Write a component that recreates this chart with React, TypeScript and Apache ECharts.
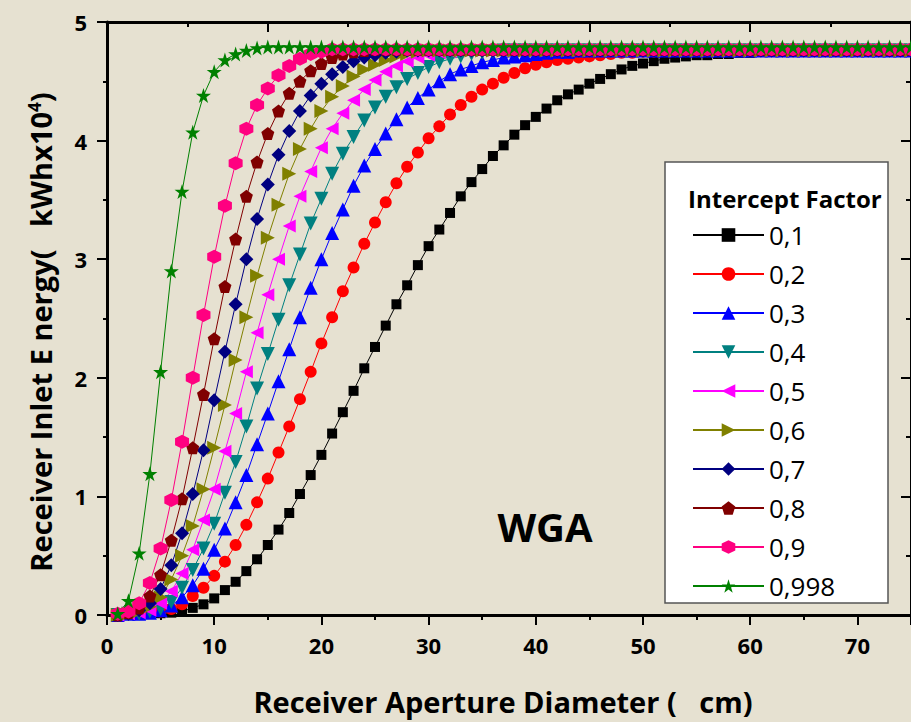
import React, { useEffect, useRef } from "react";
import * as echarts from "echarts";

const X = [1, 2, 3, 4, 5, 6, 7, 8, 9, 10, 11, 12, 13, 14, 15, 16, 17, 18, 19, 20, 21, 22, 23, 24, 25, 26, 27, 28, 29, 30, 31, 32, 33, 34, 35, 36, 37, 38, 39, 40, 41, 42, 43, 44, 45, 46, 47, 48, 49, 50, 51, 52, 53, 54, 55, 56, 57, 58, 59, 60, 61, 62, 63, 64, 65, 66, 67, 68, 69, 70, 71, 72, 73, 74, 75];

const FACTORS = ["0,1", "0,2", "0,3", "0,4", "0,5", "0,6", "0,7", "0,8", "0,9", "0,998"];

const Y_01 = [
  0.0, 0.0, 0.005, 0.01, 0.015, 0.02, 0.03, 0.06, 0.09, 0.14,
  0.21, 0.28, 0.37, 0.47, 0.59, 0.72, 0.86, 1.02, 1.18, 1.35,
  1.53, 1.71, 1.89, 2.08, 2.26, 2.44, 2.62, 2.78, 2.95, 3.11,
  3.25, 3.39, 3.53, 3.65, 3.76, 3.87, 3.96, 4.05, 4.13, 4.2,
  4.27, 4.34, 4.39, 4.43, 4.48, 4.52, 4.56, 4.6, 4.63, 4.65,
  4.67, 4.69, 4.7, 4.71, 4.72, 4.72, 4.73, 4.73, 4.74, 4.74,
  4.75, 4.75, 4.75, 4.75, 4.75, 4.75, 4.75, 4.75, 4.75, 4.75,
  4.75, 4.75, 4.75, 4.75, 4.75,
];
const Y_02 = [
  0.0, 0.005, 0.01, 0.02, 0.03, 0.05, 0.09, 0.16, 0.23, 0.33,
  0.45, 0.59, 0.76, 0.95, 1.15, 1.37, 1.59, 1.82, 2.05, 2.29,
  2.51, 2.73, 2.93, 3.13, 3.31, 3.48, 3.64, 3.78, 3.9, 4.02,
  4.12, 4.22, 4.3, 4.37, 4.43, 4.48, 4.53, 4.57, 4.61, 4.64,
  4.66, 4.68, 4.69, 4.7, 4.71, 4.72, 4.73, 4.74, 4.74, 4.75,
  4.75, 4.76, 4.76, 4.76, 4.76, 4.76, 4.76, 4.76, 4.76, 4.76,
  4.76, 4.76, 4.76, 4.76, 4.76, 4.76, 4.76, 4.76, 4.76, 4.76,
  4.76, 4.76, 4.76, 4.76, 4.76,
];
const Y_03 = [
  0.0, 0.01, 0.01, 0.02, 0.04, 0.08, 0.15, 0.25, 0.39, 0.55,
  0.73, 0.95, 1.18, 1.44, 1.7, 1.97, 2.24, 2.51, 2.76, 3.0,
  3.22, 3.42, 3.62, 3.79, 3.93, 4.06, 4.18, 4.28, 4.36, 4.43,
  4.5, 4.56, 4.6, 4.63, 4.66, 4.68, 4.7, 4.71, 4.72, 4.73,
  4.74, 4.75, 4.75, 4.76, 4.76, 4.76, 4.76, 4.76, 4.76, 4.76,
  4.76, 4.76, 4.76, 4.76, 4.76, 4.76, 4.76, 4.76, 4.76, 4.76,
  4.76, 4.76, 4.76, 4.76, 4.76, 4.76, 4.76, 4.76, 4.76, 4.76,
  4.76, 4.76, 4.76, 4.76, 4.76,
];
const Y_04 = [
  0.0, 0.01, 0.01, 0.03, 0.05, 0.11, 0.23, 0.38, 0.56, 0.77,
  1.03, 1.29, 1.59, 1.91, 2.2, 2.49, 2.78, 3.04, 3.3, 3.51,
  3.72, 3.89, 4.03, 4.17, 4.28, 4.37, 4.45, 4.52, 4.57, 4.62,
  4.66, 4.69, 4.71, 4.73, 4.74, 4.75, 4.76, 4.76, 4.76, 4.76,
  4.76, 4.76, 4.76, 4.76, 4.76, 4.76, 4.76, 4.76, 4.76, 4.76,
  4.76, 4.76, 4.76, 4.76, 4.76, 4.76, 4.76, 4.76, 4.76, 4.76,
  4.76, 4.76, 4.76, 4.76, 4.76, 4.76, 4.76, 4.76, 4.76, 4.76,
  4.76, 4.76, 4.76, 4.76, 4.76,
];
const Y_05 = [
  0.0, 0.01, 0.02, 0.04, 0.1, 0.2, 0.35, 0.55, 0.8, 1.06,
  1.38, 1.7, 2.05, 2.38, 2.7, 3.0, 3.28, 3.53, 3.74, 3.94,
  4.1, 4.23, 4.34, 4.43, 4.51, 4.58, 4.63, 4.67, 4.7, 4.72,
  4.74, 4.75, 4.76, 4.76, 4.76, 4.76, 4.76, 4.76, 4.76, 4.76,
  4.76, 4.76, 4.76, 4.76, 4.76, 4.76, 4.76, 4.76, 4.76, 4.76,
  4.76, 4.76, 4.76, 4.76, 4.76, 4.76, 4.76, 4.76, 4.76, 4.76,
  4.76, 4.76, 4.76, 4.76, 4.76, 4.76, 4.76, 4.76, 4.76, 4.76,
  4.76, 4.76, 4.76, 4.76, 4.76,
];
const Y_06 = [
  0.0, 0.01, 0.03, 0.07, 0.15, 0.3, 0.5, 0.75, 1.06, 1.41,
  1.77, 2.15, 2.51, 2.86, 3.18, 3.46, 3.72, 3.93, 4.1, 4.25,
  4.37, 4.46, 4.54, 4.6, 4.64, 4.68, 4.71, 4.73, 4.75, 4.76,
  4.76, 4.76, 4.76, 4.76, 4.76, 4.76, 4.76, 4.76, 4.76, 4.76,
  4.76, 4.76, 4.76, 4.76, 4.76, 4.76, 4.76, 4.76, 4.76, 4.76,
  4.76, 4.76, 4.76, 4.76, 4.76, 4.76, 4.76, 4.76, 4.76, 4.76,
  4.76, 4.76, 4.76, 4.76, 4.76, 4.76, 4.76, 4.76, 4.76, 4.76,
  4.76, 4.76, 4.76, 4.76, 4.76,
];
const Y_07 = [
  0.0, 0.01, 0.04, 0.1, 0.22, 0.42, 0.69, 1.02, 1.39, 1.81,
  2.22, 2.62, 3.0, 3.34, 3.63, 3.88, 4.08, 4.25, 4.38, 4.48,
  4.56, 4.62, 4.67, 4.7, 4.72, 4.74, 4.75, 4.76, 4.76, 4.76,
  4.76, 4.76, 4.76, 4.76, 4.76, 4.76, 4.76, 4.76, 4.76, 4.76,
  4.76, 4.76, 4.76, 4.76, 4.76, 4.76, 4.76, 4.76, 4.76, 4.76,
  4.76, 4.76, 4.76, 4.76, 4.76, 4.76, 4.76, 4.76, 4.76, 4.76,
  4.76, 4.76, 4.76, 4.76, 4.76, 4.76, 4.76, 4.76, 4.76, 4.76,
  4.76, 4.76, 4.76, 4.76, 4.76,
];
const Y_08 = [
  0.0, 0.02, 0.06, 0.16, 0.34, 0.63, 0.98, 1.41, 1.86, 2.33,
  2.77, 3.17, 3.53, 3.82, 4.06, 4.25, 4.4, 4.5, 4.59, 4.65,
  4.7, 4.73, 4.75, 4.76, 4.77, 4.77, 4.77, 4.77, 4.77, 4.77,
  4.77, 4.77, 4.77, 4.77, 4.77, 4.77, 4.77, 4.77, 4.77, 4.77,
  4.77, 4.77, 4.77, 4.77, 4.77, 4.77, 4.77, 4.77, 4.77, 4.77,
  4.77, 4.77, 4.77, 4.77, 4.77, 4.77, 4.77, 4.77, 4.77, 4.77,
  4.77, 4.77, 4.77, 4.77, 4.77, 4.77, 4.77, 4.77, 4.77, 4.77,
  4.77, 4.77, 4.77, 4.77, 4.77,
];
const Y_09 = [
  0.01, 0.03, 0.1, 0.27, 0.56, 0.97, 1.46, 2.0, 2.53, 3.02,
  3.45, 3.81, 4.1, 4.3, 4.44, 4.55, 4.63, 4.69, 4.73, 4.75,
  4.77, 4.77, 4.77, 4.77, 4.77, 4.77, 4.77, 4.77, 4.77, 4.77,
  4.77, 4.77, 4.77, 4.77, 4.77, 4.77, 4.77, 4.77, 4.77, 4.77,
  4.77, 4.77, 4.77, 4.77, 4.77, 4.77, 4.77, 4.77, 4.77, 4.77,
  4.77, 4.77, 4.77, 4.77, 4.77, 4.77, 4.77, 4.77, 4.77, 4.77,
  4.77, 4.77, 4.77, 4.77, 4.77, 4.77, 4.77, 4.77, 4.77, 4.77,
  4.77, 4.77, 4.77, 4.77, 4.77,
];
const Y_0998 = [
  0.01, 0.12, 0.52, 1.19, 2.05, 2.9, 3.57, 4.07, 4.38, 4.58,
  4.68, 4.73, 4.76, 4.78, 4.79, 4.79, 4.79, 4.79, 4.79, 4.79,
  4.79, 4.79, 4.79, 4.79, 4.79, 4.79, 4.79, 4.79, 4.79, 4.79,
  4.79, 4.79, 4.79, 4.79, 4.79, 4.79, 4.79, 4.79, 4.79, 4.79,
  4.79, 4.79, 4.79, 4.79, 4.79, 4.79, 4.79, 4.79, 4.79, 4.79,
  4.79, 4.79, 4.79, 4.79, 4.79, 4.79, 4.79, 4.79, 4.79, 4.79,
  4.79, 4.79, 4.79, 4.79, 4.79, 4.79, 4.79, 4.79, 4.79, 4.79,
  4.79, 4.79, 4.79, 4.79, 4.79,
];

const SERIES_Y = [Y_01, Y_02, Y_03, Y_04, Y_05, Y_06, Y_07, Y_08, Y_09, Y_0998];
const COLORS = ["#000000", "#ff0000", "#0000ff", "#008080", "#ff00ff", "#808000", "#000080", "#800000", "#ff0080", "#008000"];

const PENTAGON = "path://M0,-1L0.951,-0.309L0.588,0.809L-0.588,0.809L-0.951,-0.309Z";
const HEXAGON = "path://M0,-1L0.866,-0.5L0.866,0.5L0,1L-0.866,0.5L-0.866,-0.5Z";
const STAR = "path://M0,-1L0.2245,-0.309L0.951,-0.309L0.3633,0.118L0.588,0.809L0,0.382L-0.588,0.809L-0.3633,0.118L-0.951,-0.309L-0.2245,-0.309Z";

const SYMBOLS = ["rect", "circle", "triangle", "triangle", "triangle", "triangle", "diamond", PENTAGON, HEXAGON, STAR];
const ROTATES = [0, 0, 0, 180, 90, -90, 0, 0, 0, 0];
const SIZES = [10, 12, 14, 14, 13, 14, 14, 13, 14, 15];

const FONT = "'Open Sans', 'DejaVu Sans', sans-serif";

export default function App() {
  const ref = useRef<HTMLDivElement>(null);
  useEffect(() => {
    if (!ref.current) return;
    const chart = echarts.init(ref.current, null, { renderer: "svg" });
    const series = SERIES_Y.map((ys, k) => ({
      name: FACTORS[k],
      type: "line",
      data: X.map((x, i) => [x, ys[i]]),
      symbol: SYMBOLS[k],
      symbolSize: SIZES[k],
      symbolRotate: ROTATES[k],
      showSymbol: true,
      itemStyle: { color: COLORS[k] },
      lineStyle: { color: COLORS[k], width: 1 },
      emphasis: { disabled: true },
    }));
    const labelStyle = { fontFamily: FONT, fontWeight: "bold", fontSize: 22, color: "#000" };
    chart.setOption({
      animation: false,
      backgroundColor: "#e6e1d1",
      grid: { left: 107, top: 22, right: -4, bottom: 107 },
      xAxis: [
        {
          type: "value", position: "bottom", min: 0, max: 75, interval: 10,
          axisLine: { show: true, onZero: false, lineStyle: { color: "#000", width: 3 } },
          axisTick: { show: true, inside: false, length: 10, lineStyle: { color: "#000", width: 2 } },
          minorTick: { show: true, splitNumber: 2, length: 5, lineStyle: { color: "#000", width: 2 } },
          axisLabel: { ...labelStyle, margin: 19, showMaxLabel: false },
          splitLine: { show: false },
        },
        {
          type: "value", position: "top", min: 0, max: 75, interval: 15,
          axisLine: { show: true, onZero: false, lineStyle: { color: "#000", width: 3 } },
          axisTick: { show: true, inside: true, length: 10, lineStyle: { color: "#000", width: 2 } },
          minorTick: { show: true, splitNumber: 2, length: 5, lineStyle: { color: "#000", width: 2 } },
          axisLabel: { show: false },
          splitLine: { show: false },
        },
      ],
      yAxis: [
        {
          type: "value", position: "left", min: 0, max: 5, interval: 1,
          axisLine: { show: true, onZero: false, lineStyle: { color: "#000", width: 3 } },
          axisTick: { show: true, inside: false, length: 10, lineStyle: { color: "#000", width: 2 } },
          minorTick: { show: true, splitNumber: 2, length: 4, lineStyle: { color: "#000", width: 2 } },
          axisLabel: { ...labelStyle, margin: 20 },
          splitLine: { show: false },
        },
        {
          type: "value", position: "right", min: 0, max: 5, interval: 1,
          axisLine: { show: true, onZero: false, lineStyle: { color: "#000", width: 3 } },
          axisTick: { show: true, inside: true, length: 10, lineStyle: { color: "#000", width: 2 } },
          minorTick: { show: true, splitNumber: 2, length: 5, lineStyle: { color: "#000", width: 2 } },
          axisLabel: { show: false },
          splitLine: { show: false },
        },
      ],
      legend: {
        orient: "vertical",
        left: 687,
        top: 217,
        itemWidth: 71,
        itemHeight: 17,
        itemGap: 13,
        selectedMode: false,
        data: FACTORS,
        textStyle: { fontFamily: FONT, fontSize: 26, color: "#000", lineHeight: 26 },
        z: 10,
      },
      graphic: [
        {
          type: "rect", z: 8,
          shape: { x: 665, y: 162, width: 223, height: 441 },
          style: { fill: "#ffffff", stroke: "#555555", lineWidth: 1.5 },
        },
        {
          type: "text", z: 9, x: 688, y: 198,
          style: { text: "Intercept Factor", font: `bold 24px ${FONT}`, fill: "#000", align: "left", verticalAlign: "middle" },
        },
        {
          type: "text", z: 9, x: 545, y: 526,
          style: { text: "WGA", font: `bold 40px ${FONT}`, fill: "#000", align: "center", verticalAlign: "middle" },
        },
        {
          type: "text", z: 9, x: 503, y: 701,
          style: { text: "Receiver Aperture Diameter (   cm)", font: `bold 29px ${FONT}`, fill: "#000", align: "center", verticalAlign: "middle" },
        },
        {
          type: "text", z: 9, x: 40, y: 332, rotation: Math.PI / 2,
          style: {
            text: "{a|Receiver Inlet E nergy(   kWhx10}{s|4}{a|)}",
            align: "center", verticalAlign: "middle",
            rich: {
              a: { fontFamily: FONT, fontWeight: "bold", fontSize: 29, fill: "#000", color: "#000" },
              s: { fontFamily: FONT, fontWeight: "bold", fontSize: 17, fill: "#000", color: "#000", verticalAlign: "top" },
            },
          },
        },
      ],
      series,
    });
    return () => chart.dispose();
  }, []);
  return <div ref={ref} style={{ position: "absolute", left: 0, top: 0, width: 911, height: 722 }} />;
}
